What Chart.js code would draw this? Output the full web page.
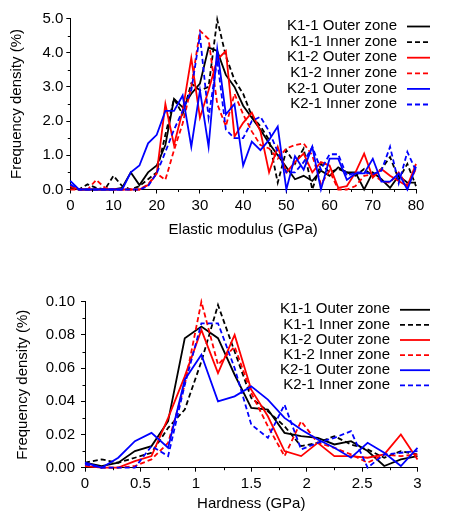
<!DOCTYPE html>
<html><head><meta charset="utf-8">
<script src="https://cdn.jsdelivr.net/npm/chart.js@4/dist/chart.umd.min.js"></script>
<style>
html,body{margin:0;padding:0;background:#fff;}
#w{position:relative;width:452px;height:513px;overflow:hidden;}
.c{position:absolute;left:0;}
</style></head><body>
<div id="w">
<div class="c" style="top:0;width:452px;height:260px"><canvas id="c1" width="452" height="260"></canvas></div>
<div class="c" style="top:260px;width:452px;height:253px"><canvas id="c2" width="452" height="253"></canvas></div>
</div>
<script>
// ---------- data ----------
const seriesNames = ['K1-1 Outer zone','K1-1 Inner zone','K1-2 Outer zone','K1-2 Inner zone','K2-1 Outer zone','K2-1 Inner zone'];

// Elastic modulus (GPa)
const modulusX = [0,2,4,6,8,10,12,14,16,18,20,22,24,26,28,30,32,34,36,38,40,42,44,46,48,50,52,54,56,58,60,62,64,66,68,70,72,74,76,78,80];
const modK11Outer = [0.05,0,0,0,0,0,0.05,0.5,0.13,0.5,0.7,1.3,2.65,2.4,2.8,3.1,4.15,4.05,3.35,3.0,2.45,2.1,1.75,1.35,1.0,0.65,0.3,0.4,0.25,0.55,0.4,0.65,0.5,0.5,0.0,0.5,0.3,0.05,0.4,0.2,0.2];
const modK11Inner = [0.1,0,0.15,0.05,0,0.4,0.1,0,0.1,0.3,0.5,1.6,2.65,2.2,3.1,2.9,3.0,4.97,3.9,3.2,2.8,2.15,1.85,1.45,0.2,1.15,0.75,1.2,0.0,0.75,0.5,0.6,0.5,0.4,0.6,0.4,0.6,0.95,0.3,0.75,0.1];
const modK12Outer = [0.1,0,0,0,0,0,0,0,0,0.13,0.47,2.5,1.3,2.3,3.85,2.1,2.9,3.8,4.05,1.55,1.95,2.25,1.7,0.5,1.25,0.5,0.8,1.05,0.5,0.8,0.7,0.05,0.1,0.5,1.05,0.35,0.6,0.4,0.25,0.1,0.75];
const modK12Inner = [0,0,0,0.28,0.05,0,0,0,0,0.15,0.47,0.28,1.15,1.93,3.0,4.64,4.4,2.5,1.85,2.8,2.2,1.7,1.3,1.2,0.9,1.2,1.3,1.35,1.0,0.15,0.55,0.0,0.0,0.1,0.4,0.45,0.25,0.2,0.5,0.1,0.6];
const modK21Outer = [0.25,0,0,0,0,0,0,0.5,0.7,1.35,1.6,2.3,2.3,2.75,1.25,2.9,1.25,4.1,2.2,2.5,0.7,1.4,1.15,1.45,1.84,0.0,0.97,0.58,1.25,0.0,0.9,0.9,0.28,0.47,0.47,0.9,0.23,0.23,0.47,0.0,0.67];
const modK21Inner = [0.15,0,0,0,0,0,0,0,0,0.1,0.47,1.1,1.75,2.3,2.9,4.5,2.1,3.8,1.75,1.5,1.5,2.0,2.13,1.7,1.1,0.5,0.5,0.8,1.25,0.58,1.03,1.03,0.4,0.5,0.5,0.45,0.55,1.25,0.18,1.1,0.55];

// Hardness (GPa)
const hardX = [0,0.15,0.3,0.45,0.6,0.75,0.9,1.05,1.2,1.35,1.5,1.65,1.8,1.95,2.1,2.25,2.4,2.55,2.7,2.85,3.0];
const hardK11Outer = [0.003,0.001,0.003,0.010,0.013,0.028,0.078,0.085,0.078,0.056,0.036,0.035,0.021,0.019,0.018,0.014,0.016,0.010,0.001,0.005,0.007];
const hardK11Inner = [0.003,0.005,0.003,0.006,0.009,0.024,0.035,0.064,0.098,0.070,0.042,0.034,0.025,0.013,0.015,0.019,0.014,0.011,0.006,0.010,0.008];
const hardK12Outer = [0.001,0.0,0.0,0.004,0.007,0.030,0.055,0.083,0.057,0.080,0.047,0.031,0.010,0.007,0.015,0.007,0.007,0.006,0.008,0.020,0.005];
const hardK12Inner = [0.002,0.0,0.0,0.001,0.005,0.015,0.050,0.100,0.062,0.073,0.045,0.025,0.007,0.028,0.015,0.012,0.008,0.003,0.008,0.007,0.008];
const hardK21Outer = [0.003,0.0,0.006,0.016,0.021,0.012,0.053,0.068,0.040,0.043,0.049,0.041,0.030,0.023,0.017,0.012,0.006,0.015,0.009,0.001,0.012];
const hardK21Inner = [0.002,0.0,0.0,0.0,0.013,0.007,0.050,0.087,0.087,0.060,0.026,0.018,0.038,0.011,0.015,0.018,0.022,0.0,0.008,0.009,0.010];

// tick values
const modXMinor = [5,15,25,35,45,55,65,75];
const modYMinor = [0.5,1.5,2.5,3.5,4.5];
const hardXMinor = [0.25,0.75,1.25,1.75,2.25,2.75];
const hardYMinor = [0.01,0.03,0.05,0.07,0.09];

// ---------- styling ----------
const FONT = "'Liberation Sans', Arial, Helvetica, sans-serif";
const colors = ['#000000','#000000','#ff0000','#ff0000','#0000ff','#0000ff'];
const dashes = [[],[5,3],[],[5,3],[],[5,3]];
Chart.defaults.font.family = FONT;
Chart.defaults.color = '#000';

function makeChart(id, xs, ys, cfg) {
  const datasets = ys.map((arr, i) => ({
    label: seriesNames[i],
    data: xs.map((x, j) => ({x: x, y: arr[j]})),
    borderColor: colors[i], backgroundColor: colors[i],
    borderWidth: 1.8, borderDash: dashes[i],
    pointRadius: 0, fill: false, tension: 0, clip: 4, order: 6 - i
  }));
  const deco = {
    id: 'deco',
    afterDraw(chart) {
      const ctx = chart.ctx, sx = chart.scales.x, sy = chart.scales.y;
      ctx.save();
      ctx.strokeStyle = '#000'; ctx.lineWidth = 1; ctx.setLineDash([]);
      cfg.xMinor.forEach(v => {
        const px = Math.round(sx.getPixelForValue(v)) + 0.5;
        ctx.beginPath(); ctx.moveTo(px, sx.top); ctx.lineTo(px, sx.top + 2.5); ctx.stroke();
      });
      cfg.yMinor.forEach(v => {
        const py = Math.round(sy.getPixelForValue(v)) + 0.5;
        ctx.beginPath(); ctx.moveTo(sy.right, py); ctx.lineTo(sy.right - 2.5, py); ctx.stroke();
      });
      ctx.font = '15px ' + FONT; ctx.textAlign = 'right'; ctx.textBaseline = 'middle'; ctx.fillStyle = '#000';
      seriesNames.forEach((n, i) => {
        const y = cfg.legY0 + i * cfg.legDy;
        ctx.fillText(n, cfg.legTextX, y);
        ctx.setLineDash(dashes[i]); ctx.strokeStyle = colors[i]; ctx.lineWidth = 1.8;
        ctx.beginPath(); ctx.moveTo(cfg.legL0, y + 0.5); ctx.lineTo(cfg.legL1, y + 0.5); ctx.stroke();
      });
      ctx.restore();
    }
  };
  return new Chart(document.getElementById(id), {
    type: 'line',
    data: {datasets},
    plugins: [deco],
    options: {
      responsive: false, animation: false, devicePixelRatio: 1,
      layout: {padding: {left: 0, right: cfg.padRight, top: cfg.padTop, bottom: 0}},
      plugins: {legend: {display: false}, tooltip: {enabled: false}},
      scales: {
        x: {
          type: 'linear', min: cfg.xMin, max: cfg.xMax,
          afterFit: s => { s.height = cfg.xHeight; },
          grid: {display: true, drawOnChartArea: false, drawTicks: true, tickLength: 4, tickColor: '#000', tickWidth: 1},
          border: {display: true, color: '#000', width: 1},
          ticks: {stepSize: cfg.xStep, autoSkip: false, maxRotation: 0, padding: 3, font: {size: 15}, color: '#000',
                  callback: v => cfg.xFmt(v)},
          title: {display: true, text: cfg.xTitle, font: {size: 15}, color: '#000', padding: {top: 0, bottom: cfg.xTitlePad}}
        },
        y: {
          type: 'linear', min: cfg.yMin, max: cfg.yMax,
          afterFit: s => { s.width = cfg.yWidth; },
          grid: {display: true, drawOnChartArea: false, drawTicks: true, tickLength: 4, tickColor: '#000', tickWidth: 1},
          border: {display: true, color: '#000', width: 1},
          ticks: {stepSize: cfg.yStep, autoSkip: false, padding: cfg.yTickPad, font: {size: 15}, color: '#000',
                  callback: v => v.toFixed(cfg.yDec)},
          title: {display: true, text: 'Frequency density (%)', font: {size: 15}, color: '#000', padding: {top: cfg.yTitlePad, bottom: 0}}
        }
      }
    }
  });
}

makeChart('c1', modulusX, [modK11Outer, modK11Inner, modK12Outer, modK12Inner, modK21Outer, modK21Inner], {
  xMin: 0, xMax: 80, xStep: 10, yMin: 0, yMax: 5, yStep: 1, yDec: 1,
  xFmt: v => String(v),
  xTitle: 'Elastic modulus (GPa)',
  xMinor: modXMinor, yMinor: modYMinor,
  padRight: 36, padTop: 18.5, xHeight: 70.5, yWidth: 70.3, yTickPad: 3,
  xTitlePad: 21, yTitlePad: 7.5,
  legY0: 26, legDy: 15.6, legTextX: 397, legL0: 407, legL1: 430
});

makeChart('c2', hardX, [hardK11Outer, hardK11Inner, hardK12Outer, hardK12Inner, hardK21Outer, hardK21Inner], {
  xMin: 0, xMax: 3, xStep: 0.5, yMin: 0, yMax: 0.1, yStep: 0.02, yDec: 2,
  xFmt: v => String(Math.round(v * 10) / 10),
  xTitle: 'Hardness (GPa)',
  xMinor: hardXMinor, yMinor: hardYMinor,
  padRight: 34.5, padTop: 41.7, xHeight: 45.3, yWidth: 85, yTickPad: 6,
  xTitlePad: 0, yTitlePad: 13.5,
  legY0: 49.3, legDy: 15.1, legTextX: 390, legL0: 400, legL1: 430
});
</script>
</body></html>
